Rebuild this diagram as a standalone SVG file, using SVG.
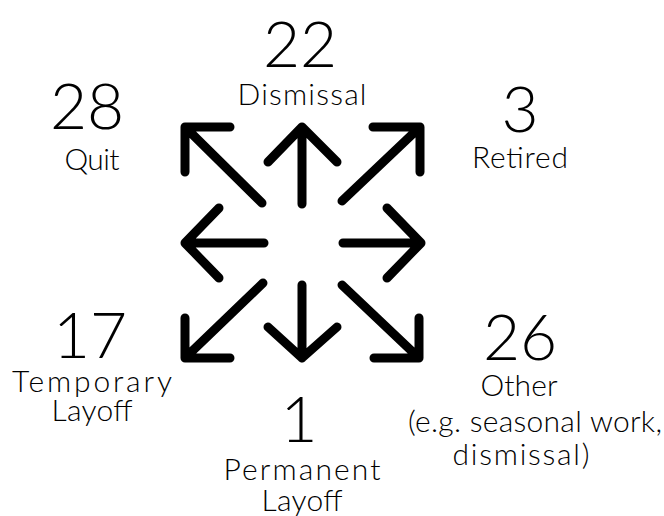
<svg xmlns="http://www.w3.org/2000/svg" width="664" height="516" viewBox="0 0 664 516">
<style>
.arr{fill:none;stroke:#000;stroke-width:9;stroke-linecap:round;stroke-linejoin:round}
text{font-family:Lato,"Open Sans","Liberation Sans",sans-serif;font-weight:300;fill:#000;text-anchor:middle}
.num{font-size:64px}
.lbl{font-size:30px}
</style>
<rect width="664" height="516" fill="#fff"/>
<g id="connectors">
<g id="arrow-nw"><path class="arr" d="M262,203 L185,127 M230,127 L185,127 L185,172"/></g>
<g id="arrow-n"><path class="arr" d="M302,204 L302,127 M268,162 L302,127 L337,162"/></g>
<g id="arrow-ne"><path class="arr" d="M342,201 L420,127 M373,127 L420,127 L420,172"/></g>
<g id="arrow-w"><path class="arr" d="M264,243 L185,243 M219,208 L185,243 L219,278"/></g>
<g id="arrow-e"><path class="arr" d="M343,243 L421,243 M387,208 L421,243 L387,278"/></g>
<g id="arrow-sw"><path class="arr" d="M263,283 L185,358 M230,358 L185,358 L185,318"/></g>
<g id="arrow-s"><path class="arr" d="M302,285 L302,358 M268,327 L302,358 L337,327"/></g>
<g id="arrow-se"><path class="arr" d="M342,285 L419,358 M374,358 L419,358 L419,318"/></g>
</g>
<g id="node-dismissal"><text class="num" x="300" y="67">22</text><text class="lbl" x="302" y="105" textLength="129" lengthAdjust="spacing">Dismissal</text></g>
<g id="node-quit"><text class="num" x="87" y="129">28</text><text class="lbl" x="92" y="170" textLength="55" lengthAdjust="spacing">Quit</text></g>
<g id="node-retired"><text class="num" x="520" y="132">3</text><text class="lbl" x="520" y="168" textLength="96" lengthAdjust="spacing">Retired</text></g>
<g id="node-temporary"><text class="num" x="90" y="358">17</text><text class="lbl" x="92" y="392" textLength="160" lengthAdjust="spacing">Temporary</text><text class="lbl" x="92" y="421" textLength="81" lengthAdjust="spacing">Layoff</text></g>
<g id="node-permanent"><text class="num" x="299" y="442">1</text><text class="lbl" x="302" y="480" textLength="157" lengthAdjust="spacing">Permanent</text><text class="lbl" x="302" y="511" textLength="81" lengthAdjust="spacing">Layoff</text></g>
<g id="node-other"><text class="num" x="520" y="360">26</text><text class="lbl" x="519" y="396" textLength="77" lengthAdjust="spacing">Other</text><text class="lbl" x="535" y="432" textLength="254" lengthAdjust="spacing">(e.g. seasonal work,</text><text class="lbl" x="521" y="465" textLength="137" lengthAdjust="spacing">dismissal)</text></g>
</svg>
